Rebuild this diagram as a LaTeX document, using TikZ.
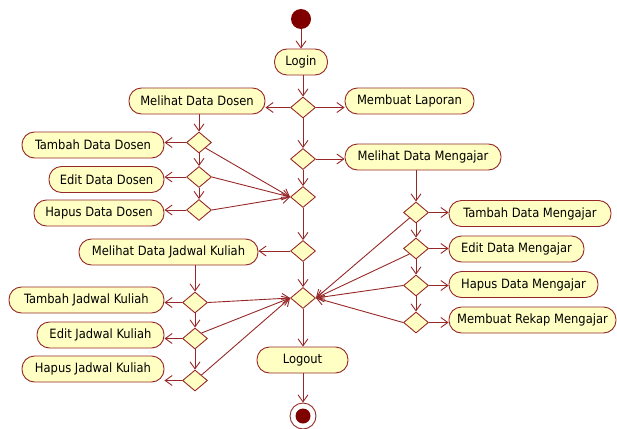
\documentclass[tikz,border=0pt]{standalone}
\usepackage{fontspec}
\setmainfont{DejaVu Sans Condensed}
\usetikzlibrary{shapes.geometric,arrows.meta}
\definecolor{lin}{RGB}{150,40,40}
\definecolor{fil}{RGB}{255,255,196}
\definecolor{dot}{RGB}{128,0,0}
\tikzset{
  act/.style={draw=lin,fill=fil,line width=0.9pt,rounded corners=12.5pt,minimum height=26pt,inner sep=0pt,font=\fontsize{12.8}{15}\selectfont},
  dec/.style={draw=lin,fill=fil,line width=0.9pt,diamond,inner sep=0pt,minimum width=25pt,minimum height=21pt},
  flow/.style={draw=lin,line width=0.9pt,-{Straight Barb[length=7pt,width=10pt,line width=0.9pt]}},
}
\begin{document}
\begin{tikzpicture}[x=1pt,y=-1pt]
\useasboundingbox (0,0) rectangle (617,428);
% main axis
\node[circle,fill=dot,minimum size=20pt,inner sep=0pt] (start) at (301,19) {};
\node[act,minimum width=53pt] (login) at (301,62) {Login};
\node[dec] (d1) at (303,107.5) {};
\node[act,minimum width=136pt] (mdd) at (197,101) {Melihat Data Dosen};
\node[act,minimum width=129pt] (mlap) at (409.5,101) {Membuat Laporan};
\node[dec] (d2) at (303,159) {};
\node[act,minimum width=156pt] (mdm) at (423,157) {Melihat Data Mengajar};
\node[dec] (d3) at (303,197) {};
\node[dec] (d4) at (303,251) {};
\node[act,minimum width=179pt] (mdjk) at (168.5,252) {Melihat Data Jadwal Kuliah};
\node[dec] (d5) at (303,298) {};
\node[act,minimum width=91pt] (logout) at (302.5,360) {Logout};
\node[circle,draw=lin,line width=0.9pt,fill=white,minimum size=26pt,inner sep=0pt] (end) at (303,416) {};
\node[circle,fill=dot,minimum size=15pt,inner sep=0pt] at (end) {};
% dosen
\node[dec] (dd1) at (199,142.5) {};
\node[act,minimum width=142pt] (tdd) at (93,145) {Tambah Data Dosen};
\node[dec] (dd2) at (199,177) {};
\node[act,minimum width=115pt] (edd) at (106.5,179.5) {Edit Data Dosen};
\node[dec] (dd3) at (199,210) {};
\node[act,minimum width=130pt] (hdd) at (99,213) {Hapus Data Dosen};
% jadwal
\node[dec] (dj1) at (195,302.5) {};
\node[act,minimum width=155pt] (tjk) at (86.5,300) {Tambah Jadwal Kuliah};
\node[dec] (dj2) at (195,338.5) {};
\node[act,minimum width=127pt] (ejk) at (100.5,335) {Edit Jadwal Kuliah};
\node[dec] (dj3) at (195,380.5) {};
\node[act,minimum width=142pt] (hjk) at (93,369) {Hapus Jadwal Kuliah};
% mengajar
\node[dec] (dm1) at (416,212.5) {};
\node[act,minimum width=162pt] (tdm) at (530,213.5) {Tambah Data Mengajar};
\node[dec] (dm2) at (416,248.5) {};
\node[act,minimum width=135pt] (edm) at (516.5,249) {Edit Data Mengajar};
\node[dec] (dm3) at (416,285.5) {};
\node[act,minimum width=149pt] (hdm) at (523.5,284.5) {Hapus Data Mengajar};
\node[dec] (dm4) at (416,322.5) {};
\node[act,minimum width=167pt] (mrm) at (532.5,320) {Membuat Rekap Mengajar};
% flows main
\draw[flow] (start) -- (login);
\draw[flow] (login.south -| d1) -- (d1);
\draw[flow] (d1.west) -- (mdd.east |- d1.west);
\draw[flow] (d1.east) -- (mlap.west |- d1.east);
\draw[flow] (d1) -- (d2);
\draw[flow] (d2.east) -- (mdm.west |- d2.east);
\draw[flow] (d2) -- (d3);
\draw[flow] (d3) -- (d4);
\draw[flow] (d4.west) -- (mdjk.east |- d4.west);
\draw[flow] (d4) -- (d5);
\draw[flow] (d5) -- (logout.north -| d5);
\draw[flow] (logout.south -| end) -- (end);
% dosen flows
\draw[flow] (mdd.south -| dd1) -- (dd1);
\draw[flow] (dd1.west) -- (tdd.east |- dd1.west);
\draw[flow] (dd1) -- (dd2);
\draw[flow] (dd2.west) -- (edd.east |- dd2.west);
\draw[flow] (dd2) -- (dd3);
\draw[flow] (dd3.west) -- (hdd.east |- dd3.west);
\draw[flow] (dd1.south east) -- (d3.west);
\draw[flow] (dd2.east) -- (d3.west);
\draw[flow] (dd3.east) -- (d3.west);
% jadwal flows
\draw[flow] (mdjk.south -| dj1) -- (dj1);
\draw[flow] (dj1.west) -- (tjk.east |- dj1.west);
\draw[flow] (dj1) -- (dj2);
\draw[flow] (dj2.west) -- (ejk.east |- dj2.west);
\draw[flow] (dj2) -- (dj3);
\draw[flow] (dj3.west) -- (hjk.east |- dj3.west);
\draw[flow] (dj1.east) -- (d5.west);
\draw[flow] (dj2.north east) -- (d5.west);
\draw[flow] (dj3.north east) -- (d5.west);
% mengajar flows
\draw[flow] (mdm.south -| dm1) -- (dm1);
\draw[flow] (dm1.east) -- (tdm.west |- dm1.east);
\draw[flow] (dm1) -- (dm2);
\draw[flow] (dm2.east) -- (edm.west |- dm2.east);
\draw[flow] (dm2) -- (dm3);
\draw[flow] (dm3.east) -- (hdm.west |- dm3.east);
\draw[flow] (dm3) -- (dm4);
\draw[flow] (dm4.east) -- (mrm.west |- dm4.east);
\draw[flow] (dm1.south west) -- (d5.east);
\draw[flow] (dm2.south west) -- (d5.east);
\draw[flow] (dm3.west) -- (d5.east);
\draw[flow] (dm4.west) -- (d5.east);
\end{tikzpicture}
\end{document}
